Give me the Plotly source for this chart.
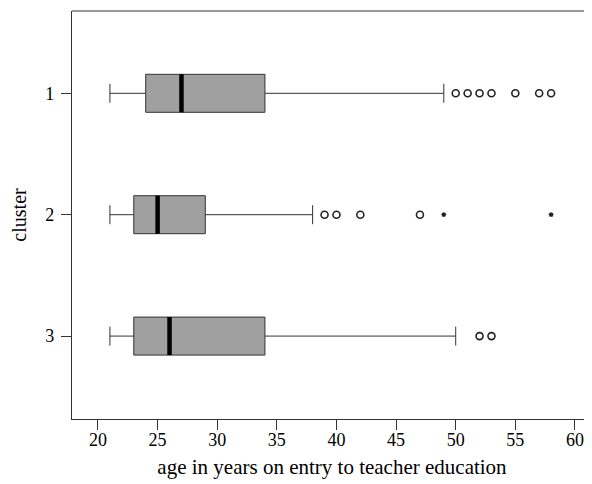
import plotly.graph_objects as go

# ---- data ----
clusters = [1, 2, 3]
lower_whisker = [21, 21, 21]
q1 = [24, 23, 23]
median = [27, 25, 26]
q3 = [34, 29, 34]
upper_whisker = [49, 38, 50]

outlier_circle_cluster = [1, 1, 1, 1, 1, 1, 1, 2, 2, 2, 2, 3, 3]
outlier_circle_age = [50, 51, 52, 53, 55, 57, 58, 39, 40, 42, 47, 52, 53]
outlier_star_cluster = [2, 2]
outlier_star_age = [49, 58]

x_ticks = [20, 25, 30, 35, 40, 45, 50, 55, 60]

# ---- style ----
BOX_W = 0.313
FILL = "#a0a0a0"
LINE = "#333333"
FONT = "Liberation Serif"

fig = go.Figure()
for c, lo, a, m, b, hi in zip(clusters, lower_whisker, q1, median, q3, upper_whisker):
    fig.add_trace(go.Box(
        orientation="h", y=[c], q1=[a], median=[m], q3=[b],
        lowerfence=[lo], upperfence=[hi], boxpoints=False,
        width=BOX_W, whiskerwidth=0.5, fillcolor=FILL,
        line=dict(color=LINE, width=1), showlegend=False, hoverinfo="skip"))
    fig.add_shape(type="line", xref="x", yref="y", x0=m, x1=m,
                  y0=c - BOX_W / 2, y1=c + BOX_W / 2,
                  line=dict(color="black", width=4.5))

fig.add_trace(go.Scatter(
    x=outlier_circle_age, y=outlier_circle_cluster, mode="markers",
    marker=dict(symbol="circle-open", size=7, color="#222222", line=dict(width=1.6)),
    showlegend=False, hoverinfo="skip"))
fig.add_trace(go.Scatter(
    x=outlier_star_age, y=outlier_star_cluster, mode="markers",
    marker=dict(symbol="asterisk-open", size=4, color="#222222", line=dict(width=1.2)),
    showlegend=False, hoverinfo="skip"))

# top frame line (right side falls off the image)
fig.add_shape(type="line", xref="paper", yref="paper", x0=0, x1=1, y0=1, y1=1,
              line=dict(color=LINE, width=1.2))

# page body adds an 8px margin, so the figure is 584x476 placed at (8, 8)
fig.update_layout(
    width=584, height=476,
    margin=dict(l=64, r=0, t=3, b=65),
    plot_bgcolor="white", paper_bgcolor="white",
    font=dict(family=FONT, color="black", size=17),
    xaxis=dict(
        range=[17.82, 61.43], tickvals=x_ticks, ticktext=[str(v) for v in x_ticks],
        showgrid=False, zeroline=False, showline=True, linecolor=LINE, linewidth=1.2,
        ticks="outside", ticklen=10, tickcolor=LINE, tickwidth=1.2,
        tickfont=dict(family=FONT, size=18), ticklabelstandoff=-6,
        title=dict(text="age in years on entry to teacher education",
                   font=dict(family=FONT, size=21), standoff=10)),
    yaxis=dict(
        range=[3.683, 0.322], tickvals=clusters, ticktext=[str(c) for c in clusters],
        showgrid=False, zeroline=False, showline=True, linecolor=LINE, linewidth=1.2,
        ticks="outside", ticklen=10, tickcolor=LINE, tickwidth=1.2,
        tickfont=dict(family=FONT, size=18), ticklabelstandoff=3,
        title=dict(text="cluster", font=dict(family=FONT, size=20), standoff=14)),
)

fig.write_html("out.html")
